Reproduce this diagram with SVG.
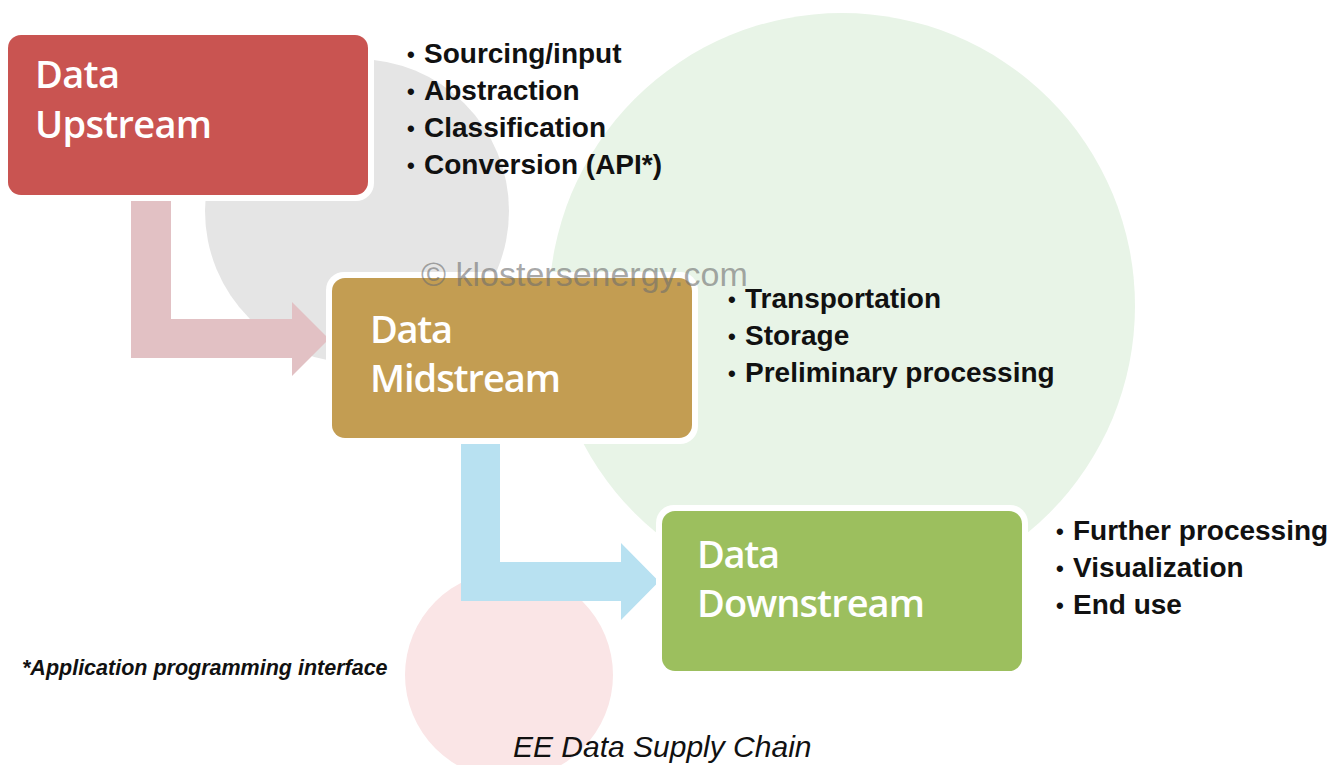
<svg xmlns="http://www.w3.org/2000/svg" width="1338" height="765" viewBox="0 0 1338 765">
  <style>
    .title { font-family: "Open Sans", "Liberation Sans", Arial, sans-serif; font-size: 38px; font-weight: 600; fill: #ffffff; }
    .item { font-family: "Liberation Sans", Arial, sans-serif; font-size: 28px; font-weight: bold; fill: #111111; }
    .dot { font-family: "Liberation Sans", Arial, sans-serif; font-size: 22px; font-weight: bold; fill: #111111; }
    .frame { fill: #ffffff; }
    .note { font-family: "Liberation Sans", Arial, sans-serif; font-size: 21.5px; font-weight: bold; font-style: italic; fill: #111111; }
    .caption { font-family: "Liberation Sans", Arial, sans-serif; font-size: 30px; font-style: italic; fill: #111111; }
    .mark { font-family: "Liberation Sans", Arial, sans-serif; font-size: 34px; fill: #6e6e6e; fill-opacity: 0.6; }
  </style>

  <rect width="1338" height="765" fill="#ffffff"/>

  <!-- background discs -->
  <g id="backdrop">
    <circle cx="357" cy="211" r="152" fill="#e5e5e5"/>
    <circle cx="842" cy="306" r="293" fill="#e8f4e7"/>
    <circle cx="509" cy="675" r="104" fill="#fae5e6"/>
  </g>

  <!-- flow arrows -->
  <g id="connectors">
    <path d="M131 198 H171 V319 H292 V302 L329 339 L292 376 V358 H131 Z" fill="#e2c1c4"/>
    <path d="M461 441 H500 V562 H621 V543 L659 581.5 L621 620 V601 H461 Z" fill="#b8e1f1"/>
  </g>

  <g id="upstream">
    <rect class="frame" x="2" y="29" width="372" height="172" rx="18"/>
    <rect x="8" y="35" width="360" height="160" rx="13" fill="#c95451"/>
    <text class="title" x="35" y="88" textLength="85">Data</text>
    <text class="title" x="35" y="138" textLength="177">Upstream</text>
  </g>

  <g id="midstream">
    <rect class="frame" x="326" y="272" width="372" height="172" rx="18"/>
    <rect x="332" y="278" width="360" height="160" rx="13" fill="#c39d52"/>
    <text class="title" x="370" y="343" textLength="83">Data</text>
    <text class="title" x="370" y="392" textLength="191">Midstream</text>
  </g>

  <g id="downstream">
    <rect class="frame" x="656" y="505" width="372" height="172" rx="18"/>
    <rect x="662" y="511" width="360" height="160" rx="13" fill="#9cbf5e"/>
    <text class="title" x="697" y="568" textLength="83">Data</text>
    <text class="title" x="697" y="617" textLength="228">Downstream</text>
  </g>

  <g id="upstream-tasks">
    <text class="dot" x="407" y="62">•</text><text class="item" x="424" y="63">Sourcing/input</text>
    <text class="dot" x="407" y="99">•</text><text class="item" x="424" y="100">Abstraction</text>
    <text class="dot" x="407" y="136">•</text><text class="item" x="424" y="137">Classification</text>
    <text class="dot" x="407" y="173">•</text><text class="item" x="424" y="174">Conversion (API*)</text>
  </g>

  <g id="midstream-tasks">
    <text class="dot" x="728" y="307">•</text><text class="item" x="745" y="308">Transportation</text>
    <text class="dot" x="728" y="344">•</text><text class="item" x="745" y="345">Storage</text>
    <text class="dot" x="728" y="381">•</text><text class="item" x="745" y="382">Preliminary processing</text>
  </g>

  <g id="downstream-tasks">
    <text class="dot" x="1056" y="539">•</text><text class="item" x="1073" y="540">Further processing</text>
    <text class="dot" x="1056" y="576">•</text><text class="item" x="1073" y="577">Visualization</text>
    <text class="dot" x="1056" y="613">•</text><text class="item" x="1073" y="614">End use</text>
  </g>

  <text class="mark" x="421" y="286">© klostersenergy.com</text>

  <text class="note" x="22" y="675">*Application programming interface</text>
  <text class="caption" x="513" y="757">EE Data Supply Chain</text>
</svg>
